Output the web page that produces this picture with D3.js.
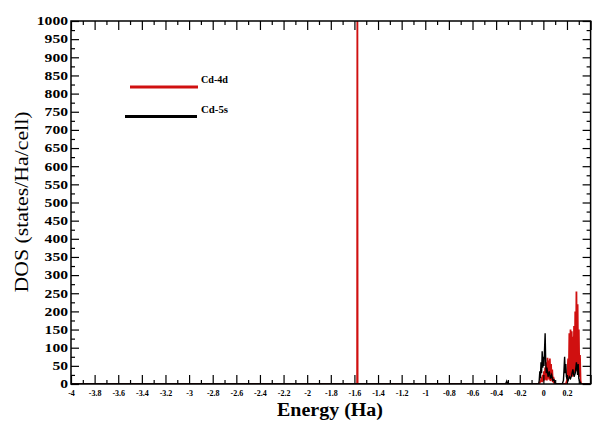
<!DOCTYPE html>
<html>
<head>
<meta charset="utf-8">
<script src="https://cdn.jsdelivr.net/npm/d3@7"></script>
<style>
  html, body { margin: 0; padding: 0; background: #fff; }
  svg { display: block; }
</style>
</head>
<body>
<svg id="chart" width="592" height="421"></svg>
<script>
// ---- data ----
const seriesNames = ["Cd-4d", "Cd-5s"];
const seriesColors = ["#d01010", "#000000"];

const energy4d = [-4, -1.577, -1.575, -1.573, -0.035, -0.025, -0.015, -0.01, -0.005, 0, 0.005, 0.01, 0.015, 0.02, 0.025, 0.03, 0.035, 0.04, 0.045, 0.05, 0.055, 0.06, 0.065, 0.07, 0.075, 0.08, 0.085, 0.09, 0.1, 0.19, 0.2, 0.205, 0.21, 0.215, 0.22, 0.225, 0.23, 0.235, 0.24, 0.245, 0.25, 0.255, 0.26, 0.265, 0.27, 0.275, 0.28, 0.285, 0.29, 0.295, 0.3, 0.305, 0.31, 0.315, 0.32, 0.4];
const dos4d    = [0, 0, 1200, 0, 0, 8, 15, 5, 25, 8, 35, 10, 45, 12, 60, 10, 72, 15, 65, 12, 70, 8, 55, 10, 40, 5, 20, 3, 0, 0, 10, 40, 70, 15, 140, 20, 150, 25, 145, 20, 130, 25, 160, 30, 200, 40, 255, 35, 220, 30, 150, 20, 80, 10, 0, 0];

const energy5s = [-4, -0.32, -0.31, -0.3, -0.04, -0.035, -0.03, -0.025, -0.02, -0.015, -0.01, -0.005, 0, 0.005, 0.01, 0.015, 0.02, 0.025, 0.03, 0.04, 0.05, 0.06, 0.07, 0.08, 0.09, 0.1, 0.16, 0.17, 0.175, 0.18, 0.185, 0.19, 0.195, 0.2, 0.21, 0.22, 0.23, 0.24, 0.25, 0.26, 0.27, 0.28, 0.29, 0.295, 0.3, 0.31, 0.32, 0.4];
const dos5s    = [0, 0, 8, 0, 0, 10, 35, 15, 60, 30, 90, 45, 75, 50, 95, 140, 60, 30, 45, 20, 35, 15, 25, 10, 12, 0, 0, 10, 40, 75, 30, 55, 20, 15, 10, 20, 15, 25, 40, 20, 30, 60, 25, 55, 15, 5, 0, 0];

const xTickValues = [-4, -3.8, -3.6, -3.4, -3.2, -3, -2.8, -2.6, -2.4, -2.2, -2, -1.8, -1.6, -1.4, -1.2, -1, -0.8, -0.6, -0.4, -0.2, 0, 0.2, 0.4];
const xTickLabels = ["-4", "-3.8", "-3.6", "-3.4", "-3.2", "-3", "-2.8", "-2.6", "-2.4", "-2.2", "-2", "-1.8", "-1.6", "-1.4", "-1.2", "-1", "-0.8", "-0.6", "-0.4", "-0.2", "0", "0.2", ""];
const yTickValues = [0, 50, 100, 150, 200, 250, 300, 350, 400, 450, 500, 550, 600, 650, 700, 750, 800, 850, 900, 950, 1000];

const xTitle = "Energy (Ha)";
const yTitle = "DOS (states/Ha/cell)";

// ---- layout ----
const FONT = "'Liberation Serif', 'Times New Roman', serif";
const L = 71, R = 590.6, T = 21, B = 384;
const svg = d3.select("#chart");
svg.append("rect").attr("width", 592).attr("height", 421).attr("fill", "#fff");

const x = d3.scaleLinear().domain([-4, 0.4]).range([L, R]);
const y = d3.scaleLinear().domain([0, 1000]).range([B, T]);

const xMinor = xTickValues.slice(0, -1).map(v => +(v + 0.1).toFixed(2));
const yMinor = yTickValues.slice(0, -1).map(v => v + 25);

svg.append("clipPath").attr("id", "plotclip")
  .append("rect").attr("x", L).attr("y", T).attr("width", R - L).attr("height", B - T);

// data lines
const line = d3.line().x(d => x(d[0])).y(d => y(d[1]));
const series = [d3.zip(energy4d, dos4d), d3.zip(energy5s, dos5s)];
const g = svg.append("g").attr("clip-path", "url(#plotclip)");
series.forEach((s, i) => {
  g.append("path").datum(s)
    .attr("d", line)
    .attr("fill", "none")
    .attr("stroke", seriesColors[i])
    .attr("stroke-width", i === 0 ? 1.8 : 1.4)
    .attr("stroke-linejoin", "miter");
});

// axes
function styleAxis(sel) {
  sel.attr("font-family", FONT);
  sel.select(".domain").remove();
  sel.selectAll(".tick line").attr("stroke", "#000").attr("stroke-width", 1.2);
}
const labelMap = new Map(xTickValues.map((v, i) => [v, xTickLabels[i]]));

const bx = svg.append("g").attr("transform", `translate(0,${B})`)
  .call(d3.axisBottom(x).tickValues(xTickValues).tickSizeInner(-9).tickSizeOuter(0).tickPadding(6)
    .tickFormat(v => labelMap.get(v)));
styleAxis(bx);
bx.selectAll("text").attr("font-size", 8).attr("font-weight", "bold").attr("fill", "#000");
svg.append("g").attr("transform", `translate(0,${B})`)
  .call(d3.axisBottom(x).tickValues(xMinor).tickSizeInner(-4).tickSizeOuter(0).tickFormat(""))
  .call(styleAxis);

svg.append("g").attr("transform", `translate(0,${T})`)
  .call(d3.axisTop(x).tickValues(xTickValues).tickSizeInner(-9).tickSizeOuter(0).tickFormat(""))
  .call(styleAxis);
svg.append("g").attr("transform", `translate(0,${T})`)
  .call(d3.axisTop(x).tickValues(xMinor).tickSizeInner(-4).tickSizeOuter(0).tickFormat(""))
  .call(styleAxis);

const ly = svg.append("g").attr("transform", `translate(${L},0)`)
  .call(d3.axisLeft(y).tickValues(yTickValues).tickSizeInner(-8).tickSizeOuter(0).tickPadding(3)
    .tickFormat(d3.format("d")));
styleAxis(ly);
ly.selectAll("text").attr("font-size", 12).attr("font-weight", "bold").attr("fill", "#000")
  .each(function () {
    const w = this.getComputedTextLength();
    d3.select(this).attr("textLength", w * 1.3).attr("lengthAdjust", "spacingAndGlyphs");
  });
svg.append("g").attr("transform", `translate(${L},0)`)
  .call(d3.axisLeft(y).tickValues(yMinor).tickSizeInner(-4).tickSizeOuter(0).tickFormat(""))
  .call(styleAxis);

svg.append("g").attr("transform", `translate(${R},0)`)
  .call(d3.axisRight(y).tickValues(yTickValues).tickSizeInner(-8).tickSizeOuter(0).tickFormat(""))
  .call(styleAxis);
svg.append("g").attr("transform", `translate(${R},0)`)
  .call(d3.axisRight(y).tickValues(yMinor).tickSizeInner(-4).tickSizeOuter(0).tickFormat(""))
  .call(styleAxis);

// frame
svg.append("rect").attr("x", L).attr("y", T).attr("width", R - L).attr("height", B - T)
  .attr("fill", "none").attr("stroke", "#000").attr("stroke-width", 1.5);

// legend
const legend = [
  { x1: 130, x2: 198, y: 87, tx: 201, ty: 83 },
  { x1: 125, x2: 197, y: 116.5, tx: 201, ty: 113 }
];
legend.forEach((l, i) => {
  svg.append("line").attr("x1", l.x1).attr("x2", l.x2).attr("y1", l.y).attr("y2", l.y)
    .attr("stroke", seriesColors[i]).attr("stroke-width", 3);
  svg.append("text").attr("x", l.tx).attr("y", l.ty).attr("font-family", FONT)
    .attr("font-size", 11).attr("font-weight", "bold").attr("fill", "#000")
    .attr("textLength", 27).attr("lengthAdjust", "spacingAndGlyphs")
    .text(seriesNames[i]);
});

// axis titles
svg.append("text").attr("x", 330).attr("y", 416).attr("text-anchor", "middle").attr("font-family", FONT)
  .attr("font-size", 18).attr("font-weight", "bold").attr("fill", "#000")
  .attr("textLength", 106).attr("lengthAdjust", "spacingAndGlyphs")
  .text(xTitle);
svg.append("text").attr("transform", "translate(28,202) rotate(-90)").attr("text-anchor", "middle")
  .attr("font-family", FONT)
  .attr("font-size", 19).attr("fill", "#000")
  .attr("textLength", 181).attr("lengthAdjust", "spacingAndGlyphs")
  .text(yTitle);
</script>
</body>
</html>
